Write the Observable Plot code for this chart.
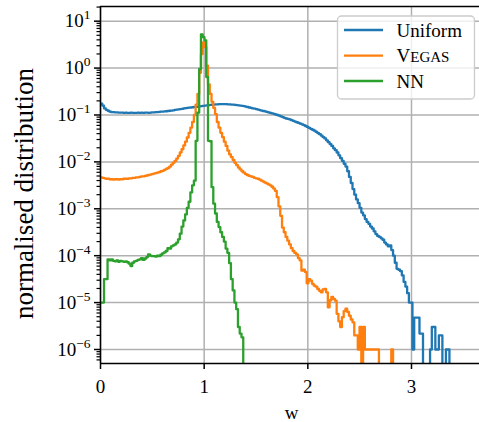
<!DOCTYPE html>
<html><head><meta charset="utf-8">
<script src="https://cdn.jsdelivr.net/npm/d3@7"></script>
<script src="https://cdn.jsdelivr.net/npm/@observablehq/plot@0.6"></script>
<style>
html,body{margin:0;padding:0;background:#fff;}
#chart svg{display:block;}
</style></head><body><div id="chart"></div>
<script>
// ---- data (log10 of normalised distribution per histogram bin; null = empty bin) ----
const binWidth = 0.017;
const seriesNames = ["Uniform", "Vegas", "NN"];
const seriesColors = ["#1f77b4", "#ff7f0e", "#2ca02c"];
const uniformLog = [
 -0.76,-0.80,-0.86,-0.89,-0.91,-0.93,-0.94,-0.94,-0.945,-0.945,
 -0.95,-0.95,-0.95,-0.955,-0.95,-0.955,-0.955,-0.95,-0.955,-0.955,
 -0.955,-0.95,-0.955,-0.95,-0.955,-0.95,-0.95,-0.955,-0.95,-0.945,
 -0.945,-0.94,-0.94,-0.935,-0.93,-0.93,-0.925,-0.92,-0.915,-0.91,
 -0.905,-0.90,-0.89,-0.885,-0.88,-0.875,-0.87,-0.86,-0.855,-0.85,
 -0.845,-0.84,-0.835,-0.83,-0.825,-0.82,-0.815,-0.81,-0.805,-0.80,
 -0.795,-0.79,-0.785,-0.78,-0.78,-0.775,-0.775,-0.77,-0.77,-0.77,
 -0.77,-0.77,-0.775,-0.775,-0.78,-0.78,-0.785,-0.79,-0.795,-0.80,
 -0.805,-0.81,-0.82,-0.83,-0.84,-0.85,-0.86,-0.865,-0.875,-0.885,
 -0.895,-0.905,-0.915,-0.925,-0.935,-0.945,-0.955,-0.965,-0.975,-0.99,
 -1.00,-1.015,-1.03,-1.045,-1.06,-1.075,-1.085,-1.095,-1.11,-1.125,
 -1.14,-1.155,-1.17,-1.185,-1.20,-1.215,-1.235,-1.255,-1.275,-1.295,
 -1.315,-1.335,-1.36,-1.385,-1.41,-1.44,-1.47,-1.50,-1.54,-1.58,
 -1.62,-1.66,-1.71,-1.75,-1.80,-1.86,-1.92,-1.98,-2.04,-2.10,
 -2.20,-2.32,-2.45,-2.58,-2.70,-2.80,-2.88,-2.98,-3.08,-3.14,
 -3.22,-3.28,-3.32,-3.38,-3.42,-3.48,-3.54,-3.58,-3.60,-3.63,
 -3.66,-3.72,-3.76,-3.80,-3.78,-3.88,-4.00,-4.15,-4.28,-4.30,
 -4.33,-4.42,-4.56,-4.66,-4.80,-5.00,-5.00,-6.00,-5.32,-5.32,
 -5.32,-5.66,-5.66,null,null,null,null,-6.00,-5.52,-5.52,
 -6.00,-6.00,-5.70,-5.70,null,null,-6.00,-6.00,null,null
];
const vegasLog = [
 -2.33,-2.34,-2.35,-2.36,-2.36,-2.37,-2.37,-2.38,-2.37,-2.37,
 -2.38,-2.37,-2.37,-2.36,-2.36,-2.36,-2.35,-2.35,-2.34,-2.34,
 -2.33,-2.33,-2.32,-2.31,-2.31,-2.30,-2.29,-2.28,-2.27,-2.26,
 -2.25,-2.24,-2.23,-2.22,-2.20,-2.19,-2.17,-2.15,-2.13,-2.10,
 -2.06,-2.02,-1.98,-1.93,-1.87,-1.80,-1.73,-1.65,-1.57,-1.48,
 -1.38,-1.27,-1.15,-1.00,-0.78,-0.55,-0.10,0.30,0.55,0.45,
 0.05,-0.35,-0.55,-0.72,-0.85,-0.98,-1.15,-1.27,-1.38,-1.47,
 -1.57,-1.66,-1.76,-1.84,-1.90,-1.96,-2.02,-2.07,-2.12,-2.16,
 -2.20,-2.23,-2.26,-2.28,-2.30,-2.31,-2.32,-2.34,-2.35,-2.36,
 -2.38,-2.40,-2.42,-2.44,-2.46,-2.48,-2.50,-2.53,-2.57,-2.62,
 -2.75,-2.95,-3.15,-3.40,-3.50,-3.60,-3.68,-3.76,-3.84,-3.90,
 -3.94,-3.97,-4.05,-4.10,-4.32,-4.30,-4.35,-4.59,-4.50,-4.53,
 -4.60,-4.64,-4.66,-4.71,-4.75,-4.78,-4.72,-4.71,-4.78,-5.10,
 -4.95,-4.88,-4.92,-4.96,-5.24,-5.40,-5.52,-5.31,-5.18,-5.13,
 -5.20,-5.28,-5.36,-5.42,-5.70,-5.70,-6.00,-5.52,null,-5.52,
 -6.00,-6.00,-6.00,-6.00,-6.00,-6.00,-6.00,-6.00,null,null,
 null,null,null,null,null,-6.00,null,null,null,null,
 null,null,null,null,null,null,null,null,null,null,
 null,null,null,null,null,null,null,null,null,null,
 null,null,null,null,null,null,null,null,null,null
];
const nnLog = [
 -5.00,-5.00,-4.50,-4.50,-4.08,-4.10,-4.08,-4.11,-4.12,-4.10,
 -4.13,-4.11,-4.12,-4.13,-4.12,-4.14,-4.17,-4.22,-4.15,-4.12,
 -4.11,-4.09,-4.08,-4.05,-4.09,-4.06,-4.03,-3.97,-4.00,-4.01,
 -4.01,-4.02,-4.00,-4.01,-3.98,-3.95,-3.93,-3.90,-3.84,-3.85,
 -3.80,-3.78,-3.76,-3.72,-3.65,-3.53,-3.38,-3.25,-3.12,-2.98,
 -2.85,-2.65,-2.50,-2.40,-1.55,-0.95,-0.02,0.72,0.66,0.59,
 -0.19,-1.55,-1.56,-2.54,-2.89,-3.10,-3.28,-3.39,-3.50,-3.60,
 -3.70,-3.85,-3.94,-4.16,-4.50,-4.74,-5.00,-5.14,-5.52,-5.66,
 -5.74,null,null,null,null,null,null,null,null,null,
 null,null,null,null,null,null,null,null,null,null,
 null,null,null,null,null,null,null,null,null,null,
 null,null,null,null,null,null,null,null,null,null,
 null,null,null,null,null,null,null,null,null,null,
 null,null,null,null,null,null,null,null,null,null,
 null,null,null,null,null,null,null,null,null,null,
 null,null,null,null,null,null,null,null,null,null,
 null,null,null,null,null,null,null,null,null,null,
 null,null,null,null,null,null,null,null,null,null,
 null,null,null,null,null,null,null,null,null,null,
 null,null,null,null,null,null,null,null,null,null
];
const xTicks = [0, 1, 2, 3];
const yExponents = [-6, -5, -4, -3, -2, -1, 0, 1];
const xLabel = "w";
const yLabel = "normalised distribution";

// ---- build table ----
const logsBySeries = [uniformLog, vegasLog, nnLog];
const rows = [];
seriesNames.forEach((name, s) => {
  const logs = logsBySeries[s];
  logs.forEach((lv, i) => rows.push({series: name, w: i * binWidth, v: lv == null ? 1e-12 : Math.pow(10, lv)}));
  rows.push({series: name, w: logs.length * binWidth, v: 1e-12});
});
const yMajor = yExponents.map(e => Math.pow(10, e));
const yMinor = [];
for (let e = -7; e <= 1; e++) for (let m = 2; m <= 9; m++) yMinor.push(m * Math.pow(10, e));
const yDomain = [Math.pow(10, -6.2985), Math.pow(10, 1.313)];
const font = "'Liberation Serif', 'DejaVu Serif', serif";

const chart = Plot.plot({
  width: 479, height: 422,
  marginLeft: 100, marginRight: 0, marginTop: 6, marginBottom: 59,
  style: {fontFamily: font, fontSize: "19px", background: "#fff", color: "#000"},
  x: {domain: [0, 3.656]},
  y: {type: "log", domain: yDomain},
  color: {domain: seriesNames, range: seriesColors},
  marks: [
    Plot.gridX(xTicks, {stroke: "#b0b0b0", strokeOpacity: 1, strokeWidth: 1.5}),
    Plot.gridY(yMajor, {stroke: "#b0b0b0", strokeOpacity: 1, strokeWidth: 1.5}),
    Plot.line(rows, {x: "w", y: "v", z: "series", stroke: "series", curve: "step-after", strokeWidth: 2.3, clip: true}),
    Plot.axisY(yMinor.filter(d => d >= yDomain[0] && d <= yDomain[1]), {tickSize: 3.5, strokeWidth: 1.2, tickFormat: () => "", label: null}),
    Plot.axisY(yMajor, {tickSize: 6, strokeWidth: 1.5, tickPadding: 4, tickFormat: d => "10^" + Math.round(Math.log10(d)), label: null}),
    Plot.axisX(xTicks, {tickSize: 6, strokeWidth: 1.5, tickPadding: 10, tickFormat: d => String(d), label: null}),
    Plot.ruleX([0], {stroke: "#000", strokeWidth: 1.5}),
    Plot.ruleY([yDomain[0]], {stroke: "#000", strokeWidth: 1.5}),
    Plot.ruleY([yDomain[1]], {stroke: "#000", strokeWidth: 1.5})
  ]
});

// superscript exponents for the log tick labels
d3.select(chart).selectAll("text").each(function() {
  const t = this.textContent;
  const m = /^10\^(-?\d+)$/.exec(t);
  if (!m) return;
  const sel = d3.select(this);
  sel.text("10");
  sel.append("tspan").attr("dy", "-8").attr("font-size", "13.5px").text(m[1].replace("-", "\u2212"));
});

const svg = d3.select(chart);
// axis labels
svg.append("text").attr("x", 291.5).attr("y", 419).attr("text-anchor", "middle")
  .attr("font-family", font).attr("font-size", "19px").text(xLabel);
svg.append("text").attr("transform", "translate(33,193.5) rotate(-90)").attr("text-anchor", "middle")
  .attr("font-family", font).attr("font-size", "27px").text(yLabel);

// legend
const lg = svg.append("g");
lg.append("rect").attr("x", 337.5).attr("y", 16).attr("width", 137).attr("height", 83).attr("rx", 4)
  .attr("fill", "#fff").attr("fill-opacity", 0.8).attr("stroke", "#cccccc").attr("stroke-width", 1.3);
const legendY = [30, 55.7, 81];
seriesNames.forEach((name, i) => {
  lg.append("line").attr("x1", 344).attr("x2", 383).attr("y1", legendY[i]).attr("y2", legendY[i])
    .attr("stroke", seriesColors[i]).attr("stroke-width", 2.3);
  const t = lg.append("text").attr("x", 396.5).attr("y", legendY[i] + 6.5).attr("text-anchor", "start")
    .attr("font-family", font).attr("font-size", "19px");
  if (name === "Vegas") {
    // small-caps rendering as in the reference
    t.append("tspan").text(name.slice(0, 1));
    t.append("tspan").attr("font-size", "15px").text(name.slice(1).toUpperCase());
  } else {
    t.text(name);
  }
});

document.getElementById("chart").appendChild(chart);
</script>
</body></html>
